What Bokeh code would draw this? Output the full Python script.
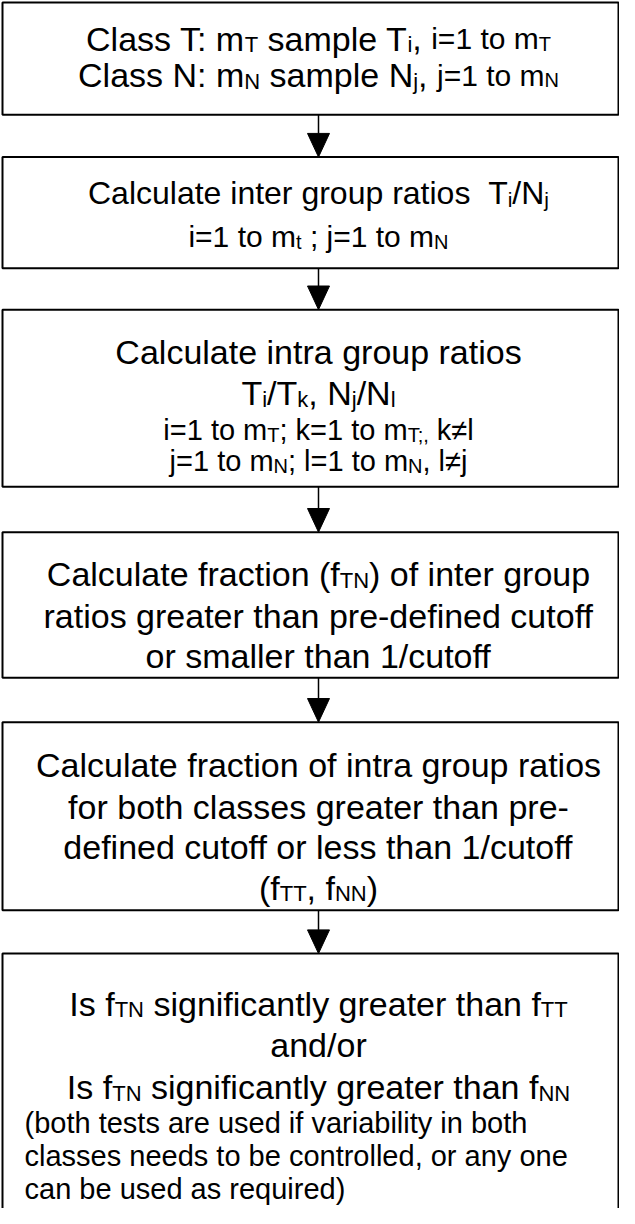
from bokeh.plotting import figure
from bokeh.models import Range1d, ColumnDataSource
from bokeh.core.properties import value, field
from bokeh.embed import file_html
from bokeh.resources import INLINE

# ---------------- content ----------------
# segment roles: "B" big text, "b" its subscript, "M" medium text, "m" its subscript,
#                "L" small text, "l" its subscript, "S" smaller text, "s" its subscript
box_tops = [9, 166, 321, 547, 740, 975]
box_bottoms = [123, 279, 501, 695, 931, 1270]

box1_lines = [
    [("Class T: m", "B"), ("T", "b"), (" sample T", "B"), ("i", "b"), (", ", "B"), ("i=1 to m", "L"), ("T", "l")],
    [("Class N: m", "B"), ("N", "b"), (" sample N", "B"), ("j", "b"), (", ", "B"), ("j=1 to m", "L"), ("N", "l")],
]
box1_base = [46, 83]

box2_lines = [
    [("Calculate inter group ratios", "M"), ("  T", "M"), ("i", "m"), ("/N", "M"), ("j", "m")],
    [("i=1 to m", "L"), ("t", "l"), (" ; j=1 to m", "L"), ("N", "l")],
]
box2_base = [203, 247]

box3_lines = [
    [("Calculate intra group ratios", "B")],
    [("T", "B"), ("i", "b"), ("/T", "B"), ("k", "b"), (", N", "B"), ("j", "b"), ("/N", "B"), ("l", "b")],
    [("i=1 to m", "S"), ("T", "s"), ("; k=1 to m", "S"), ("T;,", "s"), (" k\u2260l", "S")],
    [("j=1 to m", "S"), ("N", "s"), ("; l=1 to m", "S"), ("N", "s"), (", l\u2260j", "S")],
]
box3_base = [364, 406, 443, 475]

box4_lines = [
    [("Calculate fraction (f", "B"), ("TN", "b"), (") of inter group", "B")],
    [("ratios greater than pre-defined cutoff", "B")],
    [("or smaller than 1/cutoff", "B")],
]
box4_base = [590, 632, 673]

box5_lines = [
    [("Calculate fraction of intra group ratios", "B")],
    [("for both classes greater than pre-", "B")],
    [("defined cutoff or less than 1/cutoff", "B")],
    [("(f", "B"), ("TT", "b"), (", f", "B"), ("NN", "b"), (")", "B")],
]
box5_base = [784, 826, 867, 908]

box6_lines = [
    [("Is f", "B"), ("TN", "b"), (" significantly greater than f", "B"), ("TT", "b")],
    [("and/or", "B")],
    [("Is f", "B"), ("TN", "b"), (" significantly greater than f", "B"), ("NN", "b")],
]
box6_base = [1026, 1068, 1111]
box6_note = [
    "(both tests are used if variability in both",
    "classes needs to be controlled, or any one",
    "can be used as required)",
]
box6_note_base = [1147, 1181, 1214]

# ---------------- styling ----------------
FONT = "Liberation Sans"
SIZES = {"B": 34, "b": 22, "M": 32, "m": 21, "L": 30, "l": 20, "S": 29, "s": 20}
SUB_SHIFT = {"B": 0, "b": 6, "M": 0, "m": 6, "L": 0, "l": 5, "S": 0, "s": 5}
BOX_LEFT, BOX_RIGHT = 10, 626
CX = 326
NOTE_X = 32

# Arial / Liberation Sans advance widths (1/1000 em)
AW = {}
for ch, w in zip(" !\"#$%&'()*+,-./", [278, 278, 355, 556, 556, 889, 667, 191, 333, 333, 389, 584, 278, 333, 278, 278]):
    AW[ch] = w
for ch in "0123456789":
    AW[ch] = 556
for ch, w in zip(":;<=>?@", [278, 278, 584, 584, 584, 556, 1015]):
    AW[ch] = w
for ch, w in zip("ABCDEFGHIJKLMNOPQRSTUVWXYZ",
                 [667, 667, 722, 722, 667, 611, 778, 722, 278, 500, 667, 556, 833, 722, 778, 667, 778, 722, 667, 611, 722, 667, 944, 667, 667, 611]):
    AW[ch] = w
for ch, w in zip("abcdefghijklmnopqrstuvwxyz",
                 [556, 556, 500, 556, 556, 278, 556, 556, 222, 222, 500, 222, 833, 556, 556, 556, 556, 333, 500, 278, 556, 500, 722, 500, 500, 500]):
    AW[ch] = w
AW["\u2260"] = 549
# a few kerning pairs applied by the browser
KERN = {"T:": -111, "T;": -111, "T,": -111, "T.": -111}


def text_width(s, size):
    w = sum(AW.get(c, 556) for c in s)
    w += sum(KERN.get(s[k:k + 2], 0) for k in range(len(s) - 1))
    return w * size / 1000.0


xs, ys, txt, fs = [], [], [], []


def place_line(segs, baseline, x_left=None):
    total = sum(text_width(t, SIZES[r]) for t, r in segs)
    x = CX - total / 2.0 if x_left is None else x_left
    for t, r in segs:
        size = SIZES[r]
        lead = len(t) - len(t.lstrip(" "))
        core = t.strip(" ")
        if core:
            xs.append(x + text_width(" " * lead, size))
            ys.append(baseline + SUB_SHIFT[r])
            txt.append(core)
            fs.append("%dpx" % size)
        x += text_width(t, size)


for lines, bases in [(box1_lines, box1_base), (box2_lines, box2_base), (box3_lines, box3_base),
                     (box4_lines, box4_base), (box5_lines, box5_base), (box6_lines, box6_base)]:
    for segs, b in zip(lines, bases):
        place_line(segs, b)
for t, b in zip(box6_note, box6_note_base):
    place_line([(t, "S")], b, x_left=NOTE_X)

# ---------------- figure ----------------
p = figure(width=619, height=1208, x_range=Range1d(8, 627), y_range=Range1d(1234, 7),
           x_axis_type=None, y_axis_type=None, toolbar_location=None,
           output_backend="svg", min_border=0)
p.outline_line_color = None
p.background_fill_color = "white"
p.border_fill_color = "white"
p.grid.visible = False

p.quad(left=[BOX_LEFT] * len(box_tops), right=[BOX_RIGHT] * len(box_tops),
       top=box_tops, bottom=box_bottoms, fill_color="white",
       line_color="black", line_width=2)

# arrows between boxes
HEAD_L, HEAD_W = 24, 22
x0s, y0s, x1s, y1s, px, py = [], [], [], [], [], []
for i in range(len(box_tops) - 1):
    y_from = box_bottoms[i]
    y_to = box_tops[i + 1]
    x0s.append(CX); y0s.append(y_from); x1s.append(CX); y1s.append(y_to - HEAD_L)
    px.append([CX - HEAD_W / 2, CX + HEAD_W / 2, CX])
    py.append([y_to - HEAD_L, y_to - HEAD_L, y_to])
p.segment(x0=x0s, y0=y0s, x1=x1s, y1=y1s, line_color="black", line_width=1.5)
p.patches(xs=px, ys=py, fill_color="black", line_color="black", line_width=1)

src = ColumnDataSource(dict(x=xs, y=ys, text=txt, fs=fs))
p.text(x="x", y="y", text="text", source=src, text_font=value(FONT),
       text_font_size=field("fs"), text_color="black",
       text_align="left", text_baseline="alphabetic")

open("out.html", "w").write(file_html(p, INLINE))
